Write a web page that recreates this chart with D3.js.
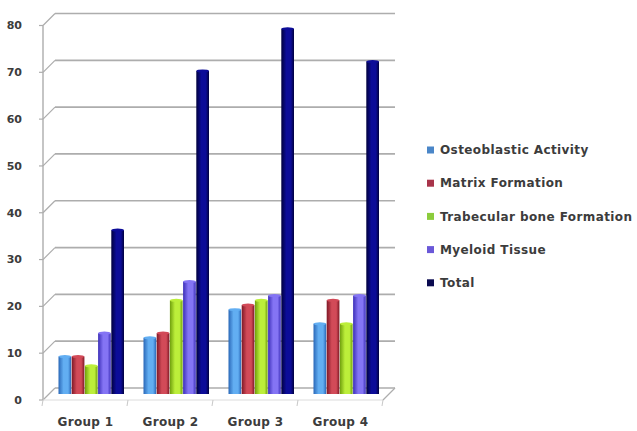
<!DOCTYPE html>
<html>
<head>
<meta charset="utf-8">
<script src="https://cdn.jsdelivr.net/npm/d3@7"></script>
<style>
  html, body { margin: 0; padding: 0; background: #fff; }
  svg { display: block; }
  text { font-family: "DejaVu Sans", sans-serif; }
</style>
</head>
<body>
<svg id="chart" width="637" height="431"></svg>
<script>
// Chart data
const groups = ["Group 1", "Group 2", "Group 3", "Group 4"];
const seriesNames = ["Osteoblastic Activity", "Matrix Formation", "Trabecular bone Formation", "Myeloid Tissue", "Total"];
const osteoblastic = [8, 12, 18, 15];
const matrix = [8, 13, 19, 20];
const trabecular = [6, 20, 20, 15];
const myeloid = [13, 24, 21, 21];
const total = [35, 69, 78, 71];
const yTicks = [0, 10, 20, 30, 40, 50, 60, 70, 80];

const seriesValues = [osteoblastic, matrix, trabecular, myeloid, total];

// Cylinder-style shading per series: edge, centre, legend swatch
const palette = [
  { edge: "#2a68b8", mid: "#62aef2", key: "#4a86c8" },
  { edge: "#7e1826", mid: "#d24a58", key: "#a8344a" },
  { edge: "#6f9f0c", mid: "#bcee3a", key: "#8ccc3c" },
  { edge: "#3b2eb8", mid: "#8474f4", key: "#6a58d8" },
  { edge: "#00003e", mid: "#0c0c98", key: "#0a0a50" }
];

const svg = d3.select("#chart");
const defs = svg.append("defs");

// 3D depth offset between front edge, bar plane and back wall
const depth = 6;
const frontLeft = 43, frontRight = 383;

// Value scale at the bar plane
const y = d3.scaleLinear().domain([0, 80]).range([394, 19.5]);
// Category band at the bar plane
const x0 = d3.scaleBand().domain(groups)
  .range([frontLeft + depth, frontRight + depth])
  .paddingInner(19 / 85).paddingOuter(9.5 / 85);
const x1 = d3.scaleBand().domain(d3.range(seriesNames.length))
  .range([0, x0.bandwidth()]).padding(0);

const gridColor = "#adadad";

// Back wall gridlines with diagonal joins to the side axis
const grid = svg.append("g");
yTicks.forEach(v => {
  const yb = y(v) - depth, yf = y(v) + depth;
  grid.append("line")
    .attr("x1", frontLeft + 2 * depth).attr("x2", frontRight + 2 * depth)
    .attr("y1", yb).attr("y2", yb)
    .attr("stroke", gridColor).attr("stroke-width", 1.7);
  grid.append("line")
    .attr("x1", frontLeft).attr("y1", yf)
    .attr("x2", frontLeft + 2 * depth).attr("y2", yb)
    .attr("stroke", gridColor).attr("stroke-width", 1.2);
  grid.append("line")
    .attr("x1", frontLeft - 4).attr("x2", frontLeft)
    .attr("y1", yf).attr("y2", yf)
    .attr("stroke", gridColor).attr("stroke-width", 1.2);
});

// Vertical axis line
svg.append("line")
  .attr("x1", frontLeft).attr("x2", frontLeft)
  .attr("y1", y(80) + depth).attr("y2", y(0) + depth)
  .attr("stroke", gridColor).attr("stroke-width", 1.4);

// Floor front edge, right edge and category ticks
const floorY = y(0) + depth;
svg.append("line")
  .attr("x1", frontLeft).attr("x2", frontRight)
  .attr("y1", floorY).attr("y2", floorY)
  .attr("stroke", "#dcdcdc").attr("stroke-width", 1);
svg.append("line")
  .attr("x1", frontRight).attr("y1", floorY)
  .attr("x2", frontRight + 2 * depth).attr("y2", y(0) - depth)
  .attr("stroke", gridColor).attr("stroke-width", 1.2);
const catStep = (frontRight - frontLeft) / groups.length;
d3.range(groups.length + 1).forEach(i => {
  const xt = frontLeft + i * catStep;
  svg.append("line")
    .attr("x1", xt).attr("x2", xt - 1)
    .attr("y1", floorY).attr("y2", floorY + 6)
    .attr("stroke", "#c8c8c8").attr("stroke-width", 1);
});

// Y tick labels
svg.append("g").selectAll("text").data(yTicks).join("text")
  .attr("x", 22).attr("y", d => y(d) + depth)
  .attr("dy", "0.35em")
  .attr("text-anchor", "end")
  .attr("font-size", 11).attr("font-weight", "bold")
  .attr("fill", "#3c3c3c")
  .text(d => d);

// Gradients for the column shading
palette.forEach((p, i) => {
  const g = defs.append("linearGradient").attr("id", "grad" + i)
    .attr("x1", "0%").attr("x2", "100%").attr("y1", "0%").attr("y2", "0%");
  g.append("stop").attr("offset", "0%").attr("stop-color", p.edge);
  g.append("stop").attr("offset", "40%").attr("stop-color", p.mid);
  g.append("stop").attr("offset", "75%").attr("stop-color", p.mid);
  g.append("stop").attr("offset", "100%").attr("stop-color", p.edge);
});

// Columns
const bars = svg.append("g");
groups.forEach((grp, gi) => {
  seriesValues.forEach((vals, si) => {
    const bx = x0(grp) + x1(si);
    const bw = x1.bandwidth() - 0.5;
    const top = y(vals[gi]);
    bars.append("rect")
      .attr("x", bx).attr("y", top)
      .attr("width", bw).attr("height", y(0) - top)
      .attr("fill", `url(#grad${si})`);
    bars.append("ellipse")
      .attr("cx", bx + bw / 2).attr("cy", top)
      .attr("rx", bw / 2).attr("ry", 1.6)
      .attr("fill", palette[si].mid);
  });
});

// Category labels
svg.append("g").selectAll("text").data(groups).join("text")
  .attr("x", (d, i) => frontLeft + catStep * (i + 0.5))
  .attr("y", 422)
  .attr("dy", "0.35em")
  .attr("text-anchor", "middle")
  .attr("font-size", 12).attr("font-weight", "bold")
  .attr("letter-spacing", 0.3)
  .attr("fill", "#3c3c3c")
  .text(d => d);

// Legend
const legend = svg.append("g").selectAll("g").data(seriesNames).join("g")
  .attr("transform", (d, i) => `translate(427, ${150 + i * 33.2})`);
legend.append("rect")
  .attr("x", 0).attr("y", -3.5).attr("width", 7).attr("height", 7)
  .attr("fill", (d, i) => palette[i].key);
legend.append("text")
  .attr("x", 13).attr("y", 0).attr("dy", "0.35em")
  .attr("font-size", 12).attr("font-weight", "bold")
  .attr("letter-spacing", 0.4)
  .attr("fill", "#3c3c3c")
  .text(d => d);
</script>
</body>
</html>
